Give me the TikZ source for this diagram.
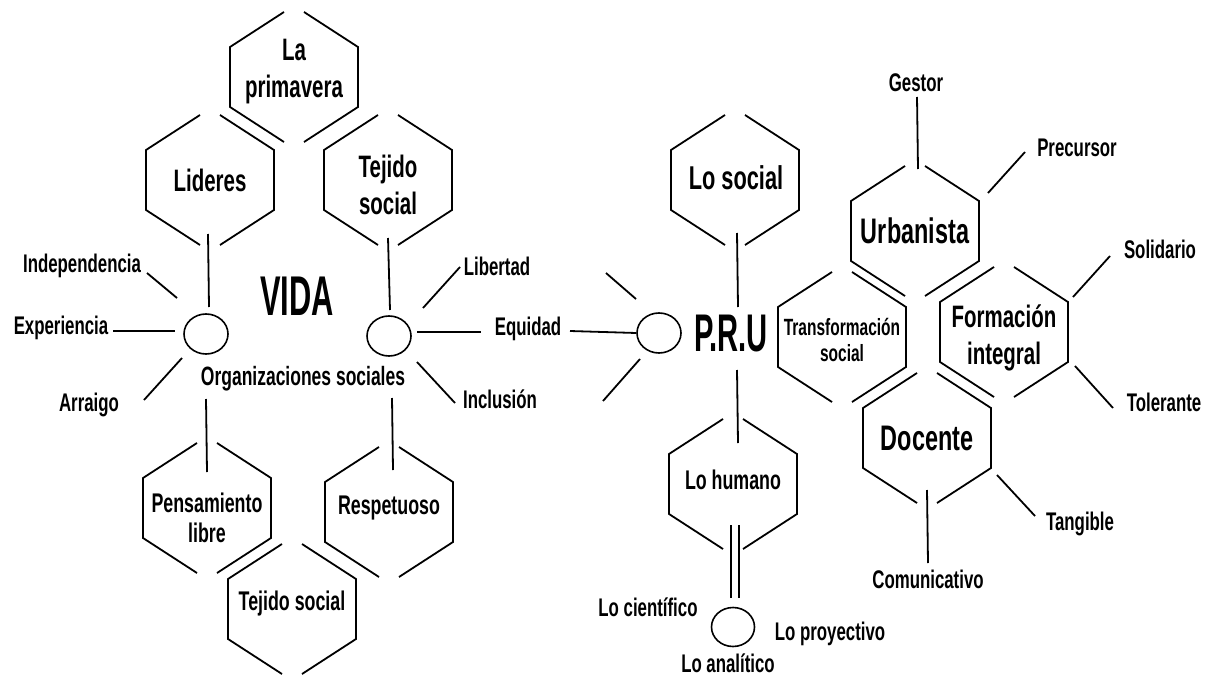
\documentclass[tikz,border=0pt]{standalone}
\usepackage{fontspec}
\setmainfont{Liberation Sans}[FakeStretch=0.66]
\newfontfamily\capsfont{Liberation Sans}[FakeStretch=0.55]
\usetikzlibrary{shapes.geometric}
\tikzset{
  hexline/.style={line width=1.8pt, line join=miter},
  conn/.style={line width=1.8pt},
  hexa/.pic={
    \draw[hexline] (-10,-65) -- (-64,-30) -- (-64,30) -- (-10,65);
    \draw[hexline] (10,-65) -- (64,-30) -- (64,30) -- (10,65);
  },
  lbl/.style={inner sep=0pt, font=\bfseries\fontsize{25.5}{30}\selectfont},
  hbig/.style={inner sep=0pt, align=center, font=\bfseries\fontsize{31}{37}\selectfont},
  hmed/.style={inner sep=0pt, align=center, font=\bfseries\fontsize{27}{30}\selectfont},
  hlarge/.style={inner sep=0pt, align=center, font=\bfseries\fontsize{35.5}{37}\selectfont},
  huge/.style={inner sep=0pt, font=\capsfont\bfseries\fontsize{56}{60}\selectfont},
  circ/.style={draw, ellipse, line width=1.6pt, minimum width=44pt, minimum height=40pt, inner sep=0pt}
}
\begin{document}
\begin{tikzpicture}[x=1pt,y=-1pt]
\useasboundingbox (0,0) rectangle (1214,679);
\fill[white] (0,0) rectangle (1214,679);

% ---------- hexagons (left cluster)
\pic at (294,77) {hexa};
\node[hbig] (prim) at (294,72) {La\\primavera};
\pic at (210,180) {hexa};
\node[hbig] (lid) at (210,180) {Lideres};
\pic at (388,180) {hexa};
\node[hbig] (tej1) at (388,185) {Tejido\\social};
\pic at (207,508) {hexa};
\node[hmed] (pen) at (207,518) {Pensamiento\\libre};
\pic at (389,512) {hexa};
\node[hmed] (res) at (389,508) {Respetuoso};
\pic at (292,609) {hexa};
\node[hmed] (tej2) at (292,604) {Tejido social};

% ---------- circles
\node[circ] (c1) at (206,334) {};
\node[circ] (c2) at (389,336) {};
\node[circ] (c3) at (659,333) {};
\node[circ, minimum width=43pt, minimum height=39pt] (c4) at (733,627) {};

% ---------- central texts
\node[huge] (vida) at (297,296) {VIDA};
\node[lbl, font=\bfseries\fontsize{26.5}{30}\selectfont] (org) at (303,379) {Organizaciones sociales};
\node[huge, font=\capsfont\bfseries\fontsize{53}{58}\selectfont] (pru) at (731,334) {P.R.U};

% ---------- left labels
\node[lbl] (ind) at (82,266) {Independencia};
\node[lbl] (exp) at (61,328) {Experiencia};
\node[lbl] (arr) at (89,405) {Arraigo};
\node[lbl] (lib) at (497,266) {Libertad};
\node[lbl] (equ) at (528,329) {Equidad};
\node[lbl] (inc) at (500,399) {Inclusión};

% ---------- connectors left
\coordinate (l1a) at (208,234); \coordinate (l1b) at (209,307);
\draw[conn] (l1a) -- (l1b);
\coordinate (ia) at (147,273); \coordinate (ib) at (177,298);
\draw[conn] (ia) -- (ib);
\coordinate (ea) at (113,331); \coordinate (eb) at (175,331);
\draw[conn] (ea) -- (eb);
\coordinate (aa) at (182,358); \coordinate (ab) at (144,400);
\draw[conn] (aa) -- (ab);
\coordinate (d1a) at (206,399); \coordinate (d1b) at (207,472);
\draw[conn] (d1a) -- (d1b);
\coordinate (u2a) at (388,238); \coordinate (u2b) at (390,310);
\draw[conn] (u2a) -- (u2b);
\coordinate (lba) at (423,308); \coordinate (lbb) at (460,267);
\draw[conn] (lba) -- (lbb);
\coordinate (eqa) at (417,332); \coordinate (eqb) at (481,332);
\draw[conn] (eqa) -- (eqb);
\coordinate (ina) at (417,362); \coordinate (inb) at (455,403);
\draw[conn] (ina) -- (inb);
\coordinate (d2a) at (392,398); \coordinate (d2b) at (393,470);
\draw[conn] (d2a) -- (d2b);

% ---------- PRU cluster
\coordinate (pe) at (570,331);
\draw[conn] (pe) -- (c3.west);
\coordinate (p1a) at (606,273); \coordinate (p1b) at (636,299);
\draw[conn] (p1a) -- (p1b);
\coordinate (p2a) at (640,359); \coordinate (p2b) at (603,401);
\draw[conn] (p2a) -- (p2b);

\pic at (735,180) {hexa};
\node[hlarge, font=\bfseries\fontsize{33}{36}\selectfont] (los) at (736,178) {Lo social};
\coordinate (s1a) at (737,233); \coordinate (s1b) at (738,307);
\draw[conn] (s1a) -- (s1b);
\coordinate (s2a) at (737,370); \coordinate (s2b) at (738,443);
\draw[conn] (s2a) -- (s2b);

\pic at (733,484) {hexa};
\node[hmed] (loh) at (733,480) {Lo humano};
\coordinate (h1a) at (731,525); \coordinate (h1b) at (731,598);
\coordinate (h2a) at (739,525); \coordinate (h2b) at (739,598);
\draw[conn] (h1a) -- (h1b);
\draw[conn] (h2a) -- (h2b);

\node[lbl] (cie) at (648,607) {Lo científico};
\node[lbl] (pro) at (830,634) {Lo proyectivo};
\node[lbl, anchor=base] (ana) at (728,672) {Lo analítico};

% ---------- right cluster
\pic at (842,337) {hexa};
\node[hmed, font=\bfseries\fontsize{23.5}{26}\selectfont] (tra) at (842,340) {Transformación\\social};
\pic at (915,231) {hexa};
\node[hlarge] (urb) at (915,231) {Urbanista};
\pic at (1004,332) {hexa};
\node[hbig] (for) at (1004,338) {Formación\\integral};
\pic at (927,438) {hexa};
\node[hlarge] (doc) at (927,438) {Docente};

\node[lbl] (ges) at (916,83) {Gestor};
\node[lbl] (pre) at (1077,148) {Precursor};
\node[lbl] (sol) at (1160,249) {Solidario};
\node[lbl] (tol) at (1164,402) {Tolerante};
\node[lbl] (tan) at (1080,524) {Tangible};
\node[lbl] (com) at (928,579) {Comunicativo};

\coordinate (ga) at (917,97); \coordinate (gb) at (918,169);
\draw[conn] (ga) -- (gb);
\coordinate (pra) at (988,193); \coordinate (prb) at (1025,152);
\draw[conn] (pra) -- (prb);
\coordinate (sa) at (1073,297); \coordinate (sb) at (1110,256);
\draw[conn] (sa) -- (sb);
\coordinate (ta) at (1075,366); \coordinate (tb) at (1113,408);
\draw[conn] (ta) -- (tb);
\coordinate (ca) at (927,490); \coordinate (cb) at (928,563);
\draw[conn] (ca) -- (cb);
\coordinate (tga) at (997,475); \coordinate (tgb) at (1035,516);
\draw[conn] (tga) -- (tgb);
\end{tikzpicture}
\end{document}
